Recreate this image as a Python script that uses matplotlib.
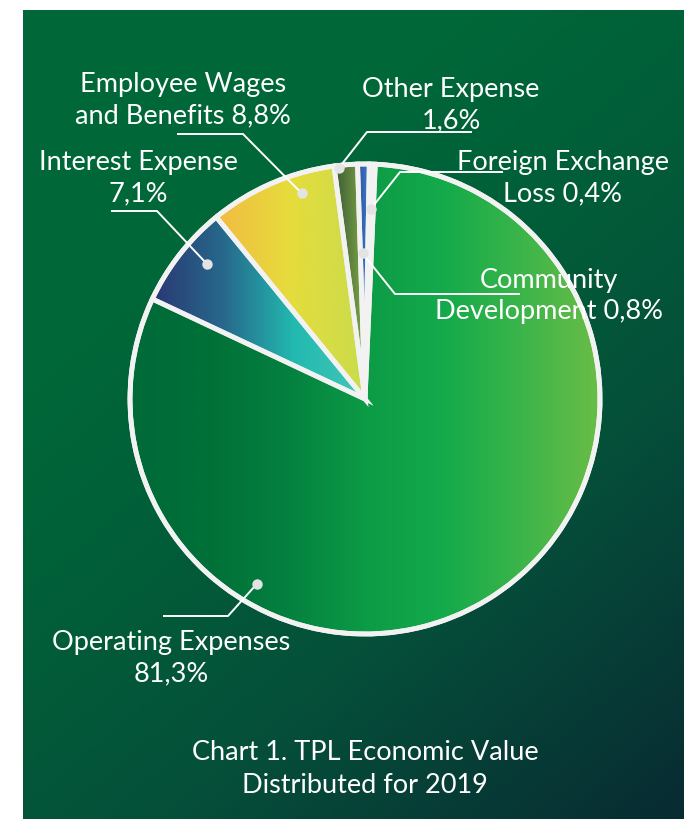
import numpy as np
import matplotlib
matplotlib.use("Agg")
import matplotlib.pyplot as plt
from matplotlib.colors import LinearSegmentedColormap
from matplotlib.patches import Rectangle

# ---------------- data ----------------
categories = ["Foreign Exchange Loss", "Community Development", "Other Expense",
              "Employee Wages and Benefits", "Interest Expense", "Operating Expenses"]
values = [0.4, 0.8, 1.6, 8.8, 7.1, 81.3]
label_line1 = ["Foreign Exchange", "Community", "Other Expense",
               "Employee Wages", "Interest Expense", "Operating Expenses"]
label_line2_prefix = ["Loss ", "Development ", "", "and Benefits ", "", ""]
title_lines = ["Chart 1. TPL Economic Value", "Distributed for 2019"]

# ---------------- style / layout ----------------
W, H = 684, 820
FONT = ["Lato", "DejaVu Sans"]
plt.rcParams["font.family"] = FONT

slice_grads = [
    ["#dfe9e9", "#f4f6f6"],
    ["#3a4c9e", "#2f86cc"],
    ["#3b5833", "#7ea847"],
    ["#f2bb42", "#e6dc3c", "#c9dc4c"],
    ["#2a3873", "#27688b", "#22b9b0", "#43c7b6"],
    ["#006a38", "#017038", "#04803f", "#0c9b46", "#14aa4b", "#3cb54a", "#6bbd46"],
]
dot_frac = [0.5, 0.7, 0.8, 0.3, 0.4, 0.29]
dot_rfrac = [0.81, 0.62, 0.99, 0.915, 0.885, 0.91]
# leader paths in image pixel coords (text end, elbow) -> dot
leaders = [
    [(503, 173), (400, 173)],
    [(520, 295), (395, 295)],
    [(472, 133), (367, 133)],
    [(177, 135), (243, 135)],
    [(111, 212), (157, 212)],
    [(163, 617), (228, 617)],
]
# text anchors: (x center, first baseline y) in image px
text_pos = [(563, 170), (549, 288), (451, 97), (183, 92), (138, 170), (171, 650)]
LINE_STEP = 31.5
FS = 19.5

CX, CY, R = 365, 400, 235


def Y(y):
    return H - y


fig = plt.figure(figsize=(W / 100, H / 100), dpi=100, facecolor="#05403a")

# background gradient panel (own axes)
bg_ax = fig.add_axes([23 / W, -0.01, 1 - 23 / W + 0.01, 1.01 - 11 / H])
nx, ny = 300, 300
u = np.linspace(0, 1, nx)[None, :]
v = np.linspace(0, 1, ny)[:, None]
t = np.clip(0.55 * u + 0.8 * v - 0.35, 0, 1)
bg_cmap = LinearSegmentedColormap.from_list(
    "bg", [(0, "#006838"), (0.25, "#015f38"), (0.55, "#05503a"), (1.0, "#082a32")])
bg_ax.imshow(bg_cmap(t), extent=(0, 1, 0, 1), aspect="auto",
             interpolation="bilinear")
bg_ax.set_xlim(0, 1)
bg_ax.set_ylim(0, 1)
bg_ax.axis("off")

# white page margins (left and top)
fig.add_artist(Rectangle((0, 0), 23 / W, 1, transform=fig.transFigure,
                         facecolor="white", edgecolor="none", zorder=10))
fig.add_artist(Rectangle((0, 1 - 11 / H), 1, 11 / H, transform=fig.transFigure,
                         facecolor="white", edgecolor="none", zorder=10))

ax = fig.add_axes([0, 0, 1, 1])
ax.patch.set_alpha(0)

# pie
wedges, _ = ax.pie(values, center=(CX, Y(CY)), radius=R, startangle=87.5,
                   counterclock=True,
                   wedgeprops=dict(edgecolor="#f2f2f2", linewidth=3.5,
                                   joinstyle="miter"))
for w, grad in zip(wedges, slice_grads):
    verts = w.get_path().vertices
    x0, x1 = verts[:, 0].min(), verts[:, 0].max()
    y0, y1 = verts[:, 1].min(), verts[:, 1].max()
    cm = LinearSegmentedColormap.from_list("g", grad)
    img = cm(np.linspace(0, 1, 256))[None, :, :]
    im = ax.imshow(img, extent=(x0, x1, y0, y1), aspect="auto", zorder=2,
                   interpolation="bilinear")
    im.set_clip_path(w)
    w.set_facecolor("none")
    w.set_zorder(3)

circ = plt.Circle((CX, Y(CY)), R, fill=False, edgecolor="#f2f2f2", lw=3.5, zorder=4)
ax.add_patch(circ)

# leaders, dots and labels
for i, w in enumerate(wedges):
    ang = np.deg2rad(w.theta1 + dot_frac[i] * (w.theta2 - w.theta1))
    dx = CX + dot_rfrac[i] * R * np.cos(ang)
    dy = Y(CY) + dot_rfrac[i] * R * np.sin(ang)
    (p0, p1) = leaders[i]
    ax.plot([p0[0], p1[0], dx], [Y(p0[1]), Y(p1[1]), dy], color="white",
            lw=1.4, zorder=5, solid_capstyle="butt")
    ax.plot([dx], [dy], marker="o", ms=7.5, color="#e3e3e3", mec="none", zorder=6)
    pct = f"{values[i]:.1f}".replace(".", ",") + "%"
    lines = [label_line1[i], label_line2_prefix[i] + pct]
    tx, ty = text_pos[i]
    for k, ln in enumerate(lines):
        ax.text(tx, Y(ty + k * LINE_STEP), ln, ha="center", va="baseline",
                color="white", fontsize=FS, zorder=7)

for k, ln in enumerate(title_lines):
    ax.text(365, Y(760 + k * 33), ln, ha="center", va="baseline",
            color="white", fontsize=FS, zorder=7)

ax.set_xlim(0, W)
ax.set_ylim(0, H)
ax.set_aspect("equal")
ax.axis("off")
fig.savefig("out.png", dpi=100, facecolor=fig.get_facecolor())
